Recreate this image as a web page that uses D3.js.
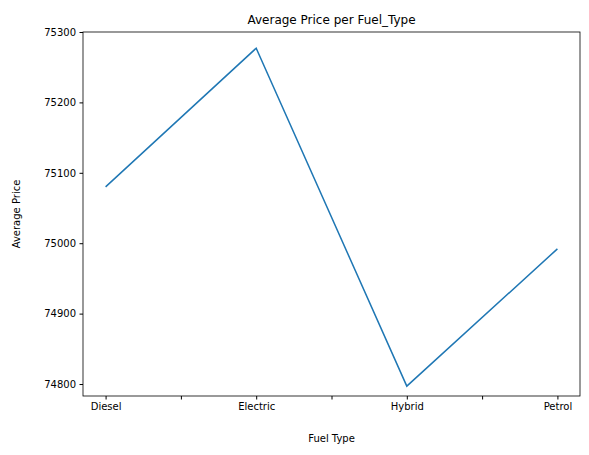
<!DOCTYPE html>
<html>
<head>
<meta charset="UTF-8">
<script src="https://d3js.org/d3.v7.min.js"></script>
<style>
body{margin:0;background:#fff;font-family:"DejaVu Sans",sans-serif;}
</style>
</head>
<body>
<svg width="589" height="455"></svg>
<script>
var fuelTypes = ["Diesel", "Electric", "Hybrid", "Petrol"];
var avgPrice = [75080, 75277, 74797, 74992];
var yTicks = [74800, 74900, 75000, 75100, 75200, 75300];

(function(){
var svg = d3.select("svg");
var pl = 83, pr = 580, pt = 32, pb = 396;

var x = d3.scaleLinear().domain([-0.15, 3.15]).range([pl, pr]);
var y = d3.scaleLinear().domain([74783, 75300]).range([pb, pt]);

var xAxis = svg.append("g").attr("transform", "translate(0," + pb + ")")
  .call(d3.axisBottom(x).tickValues([0, 0.5, 1, 1.5, 2, 2.5, 3])
    .tickFormat(function(d){ return Number.isInteger(d) ? fuelTypes[d] : ""; })
    .tickSize(3.5).tickPadding(3.5));
var yAxis = svg.append("g").attr("transform", "translate(" + pl + ",0)")
  .call(d3.axisLeft(y).tickValues(yTicks).tickFormat(d3.format("d")).tickSize(3.5).tickPadding(3.5));
[xAxis, yAxis].forEach(function(a){
  a.select(".domain").remove();
  a.selectAll("text").attr("font-size", 10).attr("fill", "#000").attr("font-family", "DejaVu Sans");
  a.selectAll("line").attr("stroke", "#000");
});

svg.append("rect").attr("x", pl).attr("y", pt).attr("width", pr - pl).attr("height", pb - pt)
  .attr("fill", "none").attr("stroke", "#000").attr("stroke-width", 0.8);

var line = d3.line().x(function(d, i){ return x(i); }).y(function(d){ return y(d); });
svg.append("path").datum(avgPrice).attr("d", line).attr("fill", "none")
  .attr("stroke", "#1f77b4").attr("stroke-width", 1.5);

svg.append("text").attr("x", (pl + pr) / 2).attr("y", pt - 8).attr("text-anchor", "middle")
  .attr("font-size", 12).text("Average Price per Fuel_Type");
svg.append("text").attr("x", (pl + pr) / 2).attr("y", 442).attr("text-anchor", "middle")
  .attr("font-size", 10).text("Fuel Type");
svg.append("text").attr("transform", "translate(20," + (pt + pb) / 2 + ") rotate(-90)")
  .attr("text-anchor", "middle").attr("font-size", 10).text("Average Price");
})();
</script>
</body>
</html>
